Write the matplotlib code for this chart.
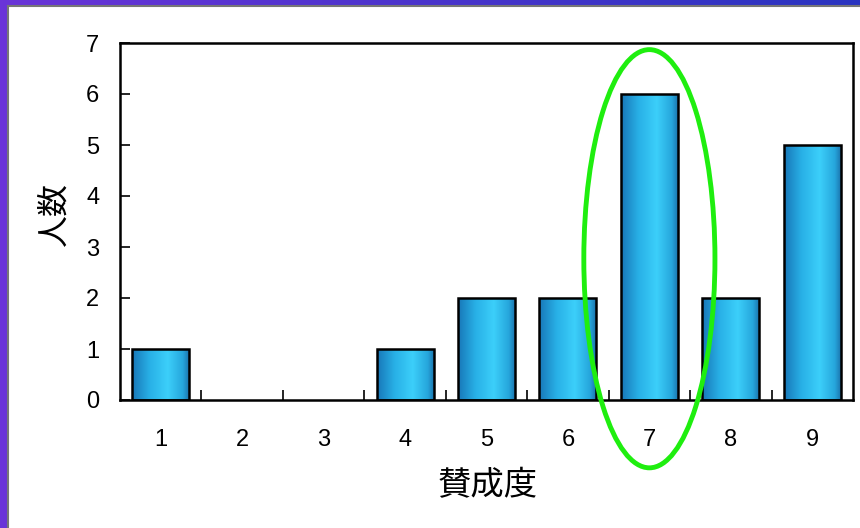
import numpy as np
import matplotlib.pyplot as plt
from matplotlib.colors import LinearSegmentedColormap
from matplotlib.patches import Ellipse, Rectangle

# data
levels = [1, 2, 3, 4, 5, 6, 7, 8, 9]
counts = [1, 0, 0, 1, 2, 2, 6, 2, 5]
y_ticks = [0, 1, 2, 3, 4, 5, 6, 7]
highlight = 7

jp = ['Noto Sans CJK JP', 'DejaVu Sans']
num_font = ['Liberation Sans', 'DejaVu Sans']

fig = plt.figure(figsize=(8.6, 5.28), dpi=100)

# slide background: purple -> blue gradient with a white panel
bg = fig.add_axes([0, 0, 1, 1], zorder=-10)
bg_cmap = LinearSegmentedColormap.from_list('bg', ['#6a34d8', '#4a34cc', '#2a34c0'])
bg.imshow(np.linspace(0, 1, 256)[None, :], aspect='auto', cmap=bg_cmap,
          extent=[0, 1, 0, 1], transform=bg.transAxes)
bg.add_patch(Rectangle((8 / 860, -0.05), 1.1, 1 - 6 / 528 + 0.05, transform=bg.transAxes,
                       facecolor='white', edgecolor='#777777', lw=1.5))
bg.set_xlim(0, 1)
bg.set_ylim(0, 1)
bg.axis('off')

ax = fig.add_axes([120 / 860, 128 / 528, 733 / 860, 357 / 528])
ax.set_facecolor('none')

bars = ax.bar(levels, counts, width=0.7, facecolor='none', edgecolor='black',
              linewidth=1.8, zorder=3)

# cylinder-like horizontal shading inside each bar
bar_cmap = LinearSegmentedColormap.from_list(
    'bar', [(0, '#1877b8'), (0.3, '#28b0e6'), (0.62, '#3ccffa'),
            (0.88, '#26a6dc'), (1.0, '#1a6ea8')])
grad = np.linspace(0, 1, 128)[None, :]
for b in bars:
    if b.get_height() <= 0:
        b.set_visible(False)
        continue
    im = ax.imshow(grad, aspect='auto', cmap=bar_cmap, zorder=2,
                   extent=[b.get_x(), b.get_x() + b.get_width(), 0, b.get_height()])
    im.set_clip_path(b)

ax.set_xlim(0.5, 9.5)
ax.set_ylim(0, 7)

ax.set_xticks(levels)
ax.set_xticklabels([str(v) for v in levels], fontsize=17, family=num_font)
ax.set_xticks(np.arange(1.5, 9.5, 1), minor=True)
ax.tick_params(axis='x', which='major', length=0, pad=21)
ax.tick_params(axis='x', which='minor', direction='in', length=7, width=1.2)

ax.set_yticks(y_ticks)
ax.set_yticklabels([str(v) for v in y_ticks], fontsize=17, family=num_font)
ax.tick_params(axis='y', direction='in', length=7, width=1.2, pad=15)

for s in ax.spines.values():
    s.set_linewidth(1.8)
    s.set_color('black')

ax.set_ylabel('人数', fontsize=23, family=jp)
ax.yaxis.set_label_coords(-0.067, 0.52)
ax.set_xlabel('賛成度', fontsize=24, family=jp)
ax.xaxis.set_label_coords(0.502, -0.19)

# green ellipse around the highlighted level
ax.add_patch(Ellipse((highlight, 2.77), 1.61, 8.2, fill=False, edgecolor='#1fee0f',
                     linewidth=3.5, clip_on=False, zorder=5))

fig.savefig('out.png', dpi=100)
